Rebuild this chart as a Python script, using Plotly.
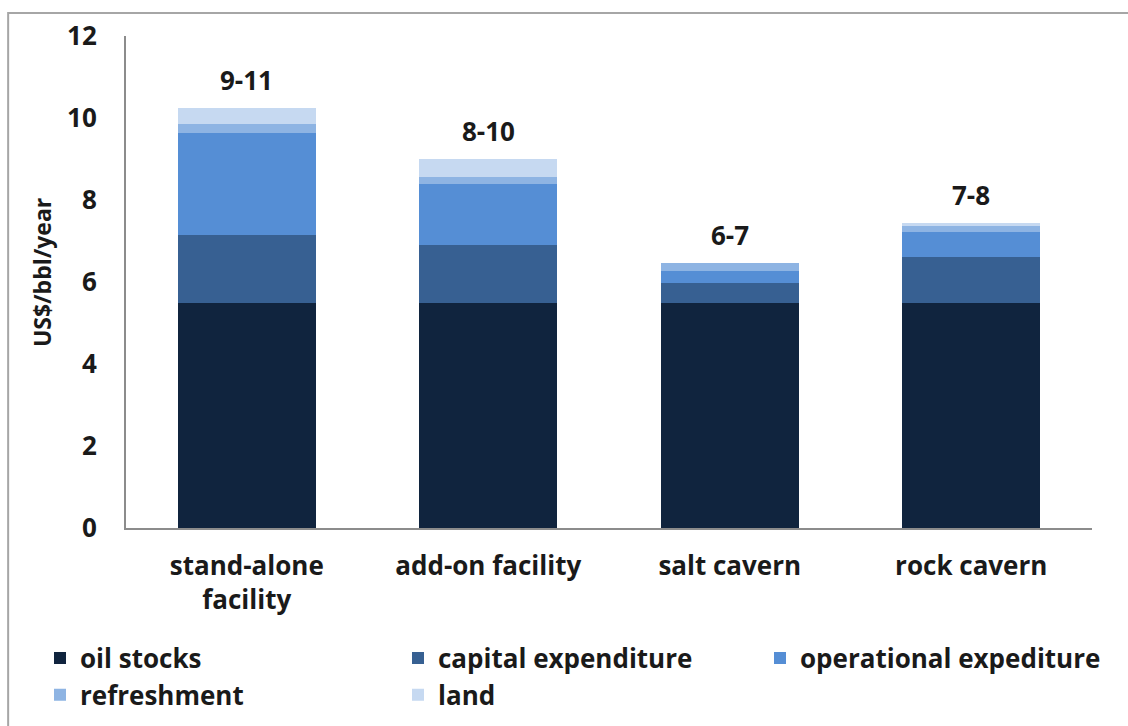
import plotly.graph_objects as go

# Storage cost components, US$/bbl/year
categories = ["stand-alone<br>facility", "add-on facility", "salt cavern", "rock cavern"]
oil_stocks = [5.5, 5.5, 5.5, 5.5]
capital_expenditure = [1.65, 1.4, 0.48, 1.11]
operational_expediture = [2.48, 1.5, 0.29, 0.61]
refreshment = [0.22, 0.15, 0.19, 0.15]
land = [0.39, 0.45, 0.0, 0.07]
range_labels = ["9-11", "8-10", "6-7", "7-8"]
y_title = "US$/bbl/year"

# (name, values, colour, legend column)
series = [
    ("oil stocks", oil_stocks, "#10243E", "legend"),
    ("capital expenditure", capital_expenditure, "#376092", "legend2"),
    ("operational expediture", operational_expediture, "#558ED5", "legend3"),
    ("refreshment", refreshment, "#8EB4E3", "legend"),
    ("land", land, "#C6D9F1", "legend2"),
]

FONT = "Open Sans"
TXT = "#1a1a1a"
SIZE = 26

fig = go.Figure()
for name, vals, color, leg in series:
    fig.add_trace(go.Bar(
        x=categories, y=vals, name="<b>%s</b>" % name,
        marker=dict(color=color, line=dict(width=0)),
        legend=leg,
    ))

totals = [sum(v) for v in zip(oil_stocks, capital_expenditure, operational_expediture, refreshment, land)]
for cat, tot, lab in zip(categories, totals, range_labels):
    fig.add_annotation(
        x=cat, y=tot, text="<b>%s</b>" % lab, showarrow=False,
        yanchor="bottom", yshift=8,
        font=dict(family=FONT, size=SIZE, color=TXT),
    )

# vertical axis title, drawn as a rotated annotation left of the tick labels
fig.add_annotation(
    xref="paper", yref="paper", x=-0.087, y=0.52,
    text="<b>%s</b>" % y_title, textangle=-90, showarrow=False,
    xanchor="center", yanchor="middle",
    font=dict(family=FONT, size=23, color=TXT),
)

# outer frame around the chart
fig.add_shape(type="rect", xref="paper", yref="paper",
              x0=-0.122, x1=1.2, y0=-0.6, y1=1.0467,
              line=dict(color="#A6A6A6", width=2), layer="below")


def legend_col(xpx):
    return dict(
        orientation="v", xref="container", yref="container",
        x=xpx / 1128, y=0.126, xanchor="left", yanchor="top",
        traceorder="normal",
        font=dict(family=FONT, size=SIZE, color=TXT),
        itemclick=False, itemdoubleclick=False,
        bgcolor="rgba(0,0,0,0)", tracegroupgap=0,
    )


fig.update_layout(
    width=1128, height=726,
    margin=dict(l=126, r=36, t=36, b=198, autoexpand=False),
    barmode="stack", bargap=0.43,
    plot_bgcolor="white", paper_bgcolor="white",
    font=dict(family=FONT, color=TXT),
    showlegend=True,
    legend=legend_col(40),
    legend2=legend_col(398),
    legend3=legend_col(760),
    xaxis=dict(
        showline=True, linecolor="#8C8C8C", linewidth=2,
        ticks="", tickfont=dict(family=FONT, size=SIZE, color=TXT),
        ticklabelstandoff=14,
        tickprefix="<b>", ticksuffix="</b>",
    ),
    yaxis=dict(
        range=[0, 12], dtick=2, showgrid=False, zeroline=False,
        showline=True, linecolor="#8C8C8C", linewidth=2,
        ticks="", tickfont=dict(family=FONT, size=SIZE, color=TXT),
        ticklabelstandoff=22,
        tickprefix="<b>", ticksuffix="</b>",
    ),
)

fig.write_html("out.html")
